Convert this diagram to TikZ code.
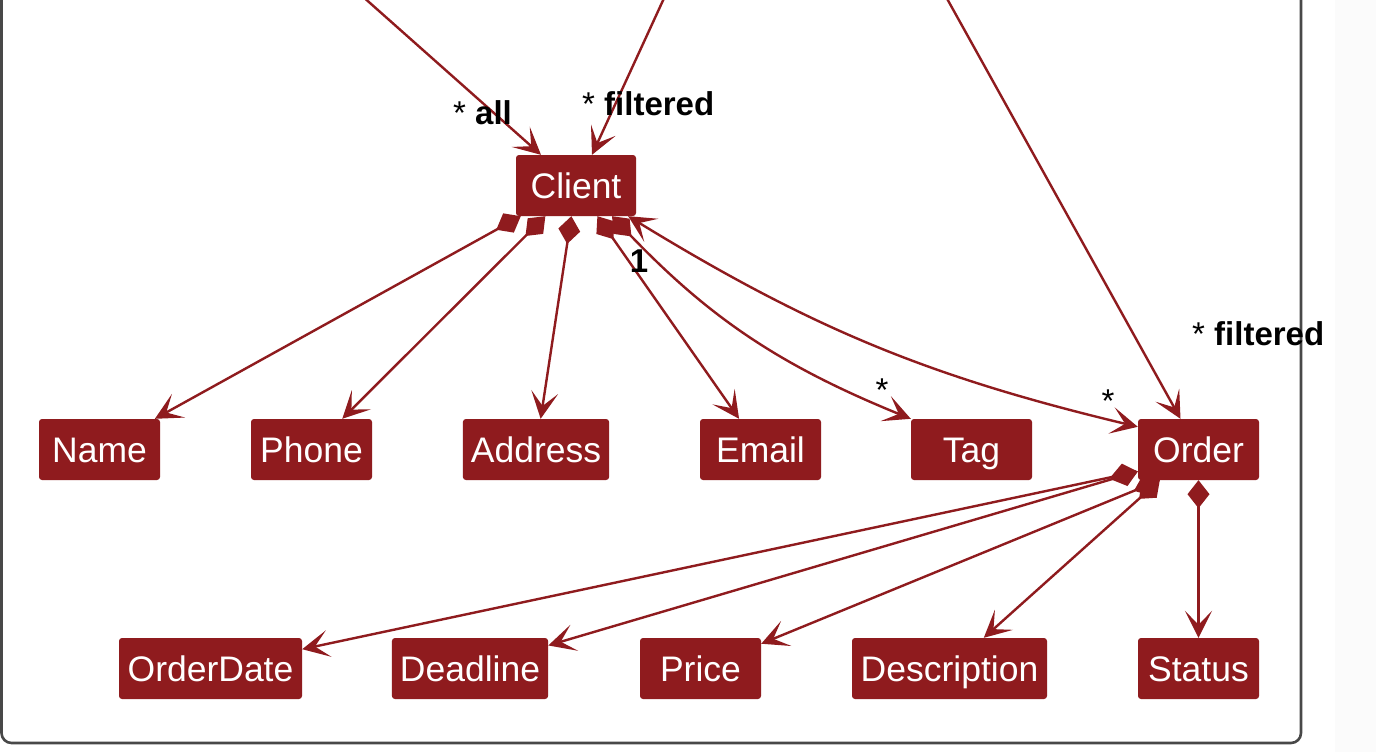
\documentclass[tikz,border=0pt]{standalone}
\usepackage{fontspec}
\setmainfont{Liberation Sans}
\usetikzlibrary{arrows.meta}
\definecolor{umlred}{RGB}{143,27,30}
\definecolor{framegray}{RGB}{72,72,72}
\definecolor{sidegray}{RGB}{251,251,251}
\begin{document}
\begin{tikzpicture}[x=1pt,y=-1pt,
  cls/.style={fill=umlred, text=white, rounded corners=3pt, minimum height=61pt,
    minimum width=#1, inner xsep=8pt, inner ysep=0pt,
    font=\fontsize{35.5}{40}\selectfont, text height=25.4pt, text depth=0pt},
  cls/.default=121pt,
  rel/.style={draw=umlred, line width=2.4pt},
  comp/.style={rel, {Diamond[length=28pt,width=22pt]}-{Stealth[length=27pt,width=27pt,inset=14pt]}},
  assoc/.style={rel, -{Stealth[length=27pt,width=27pt,inset=14pt]}},
  biassoc/.style={rel, {Stealth[length=27pt,width=27pt,inset=14pt]}-{Stealth[length=27pt,width=27pt,inset=14pt]}},
  lbl/.style={font=\fontsize{33}{38}\selectfont, inner sep=0pt, text=black}]

\useasboundingbox (0,0) rectangle (1376,752);
\fill[white] (0,0) rectangle (1376,752);
\fill[sidegray] (1335,0) rectangle (1376,752);
\draw[framegray, line width=2.6pt, rounded corners=10pt] (1.5,-40) rectangle (1301,743);

% classes
\node[cls=120pt] (client) at (576,185.5) {Client};
\node[cls] (name) at (99.5,449.5) {Name};
\node[cls] (phone) at (311.5,449.5) {Phone};
\node[cls=146pt] (address) at (536,449.5) {Address};
\node[cls] (email) at (760.5,449.5) {Email};
\node[cls] (tag) at (971.5,449.5) {Tag};
\node[cls] (order) at (1198.5,449.5) {Order};
\node[cls=183pt] (orderdate) at (210.5,668.5) {OrderDate};
\node[cls=154pt] (deadline) at (470,668.5) {Deadline};
\node[cls] (price) at (700.5,668.5) {Price};
\node[cls=195pt] (description) at (949.5,668.5) {Description};
\node[cls] (status) at (1198.5,668.5) {Status};

% sources outside the view
\coordinate (srcall) at (361,-5);
\coordinate (srcfc) at (665.5,-5);
\coordinate (srcfo) at (945,-5);

\draw[assoc] (srcall) -- ([xshift=-35pt]client.north);
\draw[assoc] (srcfc) -- ([xshift=16pt]client.north);
\draw[assoc] (srcfo) -- ([xshift=-18pt]order.north);

% client compositions
\draw[comp] (client) -- (name);
\draw[comp] (client) -- (phone);
\draw[comp] (client) -- (address);
\draw[comp] (client) -- (email);
\draw[comp] ([xshift=36pt]client.south) to[bend right=12] (tag.north west);
\draw[biassoc] ([xshift=-8pt]client.south east) to[bend right=9] ([yshift=-8pt]order.north west);

% order compositions
\draw[comp] ([yshift=-22pt]order.west) -- (orderdate);
\draw[comp] ([yshift=-22pt]order.west) -- (deadline);
\draw[comp] ([xshift=22pt]order.south west) -- (price);
\draw[comp] ([xshift=22pt]order.south west) -- (description);
\draw[comp] (order) -- (status);

% labels
\node[lbl, anchor=base west] (lall) at (453,124) {* \textbf{all}};
\node[lbl, anchor=base west] (lfc) at (582,115) {* \textbf{filtered}};
\node[lbl, anchor=base west] (lfo) at (1192,345) {* \textbf{filtered}};
\node[lbl, anchor=base] (lone) at (639,272) {\textbf{1}};
\node[lbl, anchor=base] (ltag) at (882,401) {*};
\node[lbl, anchor=base] (lord) at (1108,412) {*};
\end{tikzpicture}
\end{document}
